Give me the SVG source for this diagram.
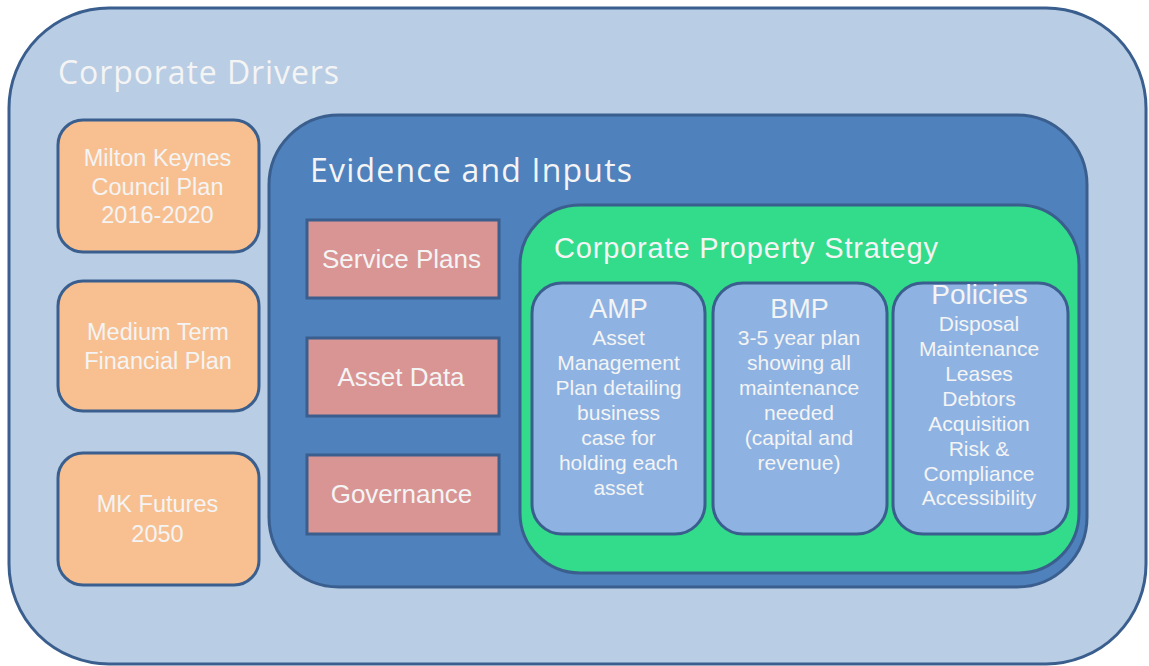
<svg xmlns="http://www.w3.org/2000/svg" width="1149" height="666" viewBox="0 0 1149 666">
<style>
.box{stroke:#3A5F8E;stroke-width:3}
.t{font-family:"Liberation Sans",Arial,sans-serif;fill:#F4F4F4;text-anchor:middle}
.h{font-family:"Open Sans","Liberation Sans",sans-serif;fill:#F4F4F4}
.o{font-size:23.5px}
.r{font-size:26px}
.b{font-size:21px}
.bt{font-size:27px}
</style>
<rect width="1149" height="666" fill="#FFFFFF"/>
<g id="corporate-drivers">
<rect class="box" x="9" y="8" width="1137" height="656" rx="100" ry="100" fill="#B9CDE4"/>
<text class="h" x="58" y="84" font-size="32" textLength="281" lengthAdjust="spacing">Corporate Drivers</text>
</g>
<g id="mk-council-plan">
<rect class="box" x="58" y="120" width="201" height="132" rx="25" fill="#F8C091"/>
<text class="t o" x="157.5" y="166">Milton Keynes</text>
<text class="t o" x="157.5" y="195">Council Plan</text>
<text class="t o" x="157.5" y="223">2016-2020</text>
</g>
<g id="medium-term">
<rect class="box" x="58" y="281" width="201" height="130" rx="25" fill="#F8C091"/>
<text class="t o" x="158" y="340">Medium Term</text>
<text class="t o" x="158" y="369">Financial Plan</text>
</g>
<g id="mk-futures">
<rect class="box" x="58" y="453" width="201" height="132" rx="25" fill="#F8C091"/>
<text class="t o" x="157.5" y="512">MK Futures</text>
<text class="t o" x="157.5" y="542">2050</text>
</g>
<g id="evidence-inputs">
<rect class="box" x="269" y="115" width="818" height="472" rx="70" fill="#4F81BD"/>
<text class="h" x="310" y="182" font-size="32" textLength="322" lengthAdjust="spacing">Evidence and Inputs</text>
</g>
<g id="service-plans">
<rect class="box" x="307" y="220" width="192" height="78" fill="#D99594"/>
<text class="t r" x="401.5" y="268">Service Plans</text>
</g>
<g id="asset-data">
<rect class="box" x="307" y="338" width="192" height="78" fill="#D99594"/>
<text class="t r" x="401" y="386">Asset Data</text>
</g>
<g id="governance">
<rect class="box" x="307" y="455" width="192" height="79" fill="#D99594"/>
<text class="t r" x="401.5" y="503">Governance</text>
</g>
<g id="property-strategy">
<rect class="box" x="520" y="205" width="559" height="368" rx="60" fill="#32DC8A"/>
<text class="t" x="746" y="258" font-size="29" textLength="384" lengthAdjust="spacing">Corporate Property Strategy</text>
</g>
<g id="amp">
<rect class="box" x="532" y="283" width="173" height="251" rx="30" fill="#8EB3E2"/>
<text class="t bt" x="618.5" y="318">AMP</text>
<text class="t b" x="618.5" y="345">Asset</text>
<text class="t b" x="618.5" y="370">Management</text>
<text class="t b" x="618.5" y="395">Plan detailing</text>
<text class="t b" x="618.5" y="420">business</text>
<text class="t b" x="618.5" y="445">case for</text>
<text class="t b" x="618.5" y="470">holding each</text>
<text class="t b" x="618.5" y="495">asset</text>
</g>
<g id="bmp">
<rect class="box" x="713" y="283" width="174" height="251" rx="30" fill="#8EB3E2"/>
<text class="t bt" x="799.5" y="318">BMP</text>
<text class="t b" x="799" y="345">3-5 year plan</text>
<text class="t b" x="799" y="370">showing all</text>
<text class="t b" x="799" y="395">maintenance</text>
<text class="t b" x="799" y="420">needed</text>
<text class="t b" x="799" y="445">(capital and</text>
<text class="t b" x="799" y="470">revenue)</text>
</g>
<g id="policies">
<rect class="box" x="893" y="283" width="175" height="251" rx="30" fill="#8EB3E2"/>
<text class="t" x="979.5" y="304" font-size="28">Policies</text>
<text class="t b" x="979" y="331">Disposal</text>
<text class="t b" x="979" y="356">Maintenance</text>
<text class="t b" x="979" y="381">Leases</text>
<text class="t b" x="979" y="406">Debtors</text>
<text class="t b" x="979" y="431">Acquisition</text>
<text class="t b" x="979" y="456">Risk &amp;</text>
<text class="t b" x="979" y="481">Compliance</text>
<text class="t b" x="979" y="505">Accessibility</text>
</g>
<g id="connectors"></g>
</svg>
